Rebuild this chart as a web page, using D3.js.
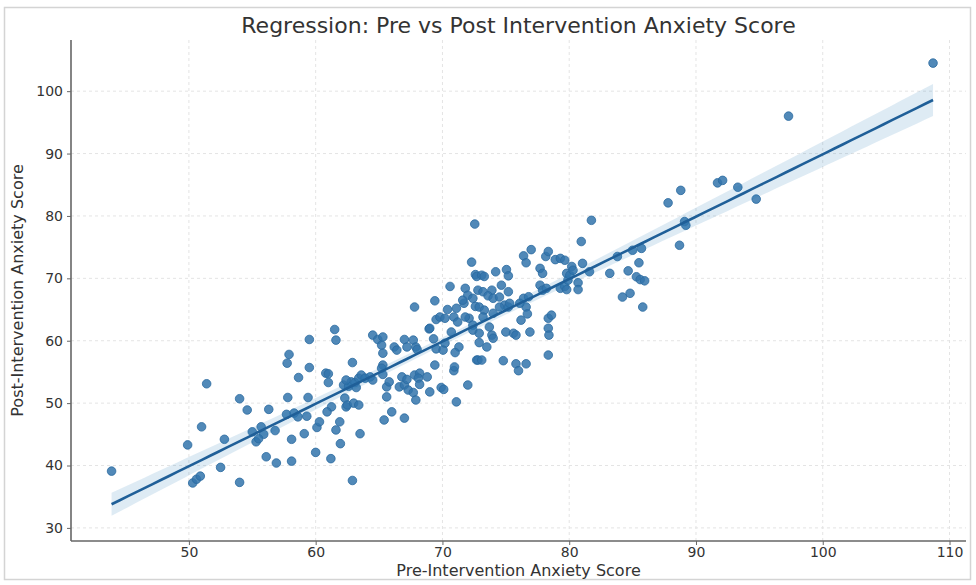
<!DOCTYPE html>
<html>
<head>
<meta charset="utf-8">
<script src="https://cdn.jsdelivr.net/npm/d3@7"></script>
<style>
  body { margin: 0; background: #fff; }
  svg { display: block; font-family: 'DejaVu Sans', sans-serif; }
</style>
</head>
<body>
<svg id="chart" width="976" height="585"></svg>
<script>
// values: pre-intervention score (x), post-intervention score (y)
const preScores = [
  43.9, 49.9, 50.3, 50.6, 50.9, 51.0, 51.4, 52.5, 52.8, 54.0, 54.0, 54.6, 55.0, 55.3, 55.7, 55.9, 55.5,
  56.1, 56.3, 56.8, 56.9, 57.7, 57.75, 57.9, 57.8, 58.1, 58.1, 58.3, 58.6, 58.65, 59.1, 59.3, 59.4, 59.5,
  59.5, 60.0, 60.1, 60.3, 60.8, 61.0, 61.0, 61.2, 61.25, 60.9, 61.5, 61.6, 61.6, 61.9, 61.95, 62.9,
  62.2, 62.3, 62.4, 62.5, 62.6, 62.8, 62.9, 63.0, 63.1, 63.2, 63.4, 63.4, 63.6, 63.9, 64.3, 64.5, 64.5,
  64.9, 65.2, 65.3, 65.3, 65.3, 65.2, 65.6, 65.6, 65.8, 66.0, 65.4, 66.2, 66.4, 66.6, 66.8, 67.0, 67.0,
  67.0, 63.5, 65.3, 62.4, 67.2,
  67.2, 67.7, 67.9, 68.0, 67.8, 68.95, 69.4, 69.5, 69.8, 70.2, 70.4, 70.6, 70.9, 71.1, 71.7, 71.8, 72.0,
  72.4, 72.6, 72.3, 72.6, 72.1, 72.4, 72.7, 69.3, 69.5, 70.2, 71.3, 71.0, 70.9, 69.4, 72.0, 71.1, 69.9,
  69.0, 67.8, 68.2, 68.8, 68.1, 67.3, 67.7, 67.9, 68.2, 70.1, 69.0, 70.7, 71.2, 71.8, 72.4, 72.9, 72.9,
  72.55, 72.7, 73.1, 73.3, 71.6, 72.8, 70.05, 70.95,
  73.2, 73.9, 73.6, 74.0, 74.5, 74.65, 75.2, 74.9, 75.2, 75.3, 74.2, 75.05, 75.2, 76.4, 76.6, 77.0,
  77.7, 77.9, 78.15, 78.35, 78.9, 79.3, 79.65, 79.8, 76.4, 76.8, 77.7, 77.9, 78.2, 79.3, 79.65, 79.9,
  72.9, 73.3, 76.6, 76.7, 76.2, 78.35, 78.6, 78.35, 78.4, 78.35, 75.6, 75.8, 76.9, 73.9, 74.0, 73.5,
  72.8, 73.1, 74.8, 75.8, 76.6, 73.7, 73.2, 74.0, 74.5, 76.1, 75.0, 76.0,
  81.75, 80.95, 81.05, 80.2, 80.05, 80.3, 81.6, 80.7, 80.7, 79.8, 83.2, 83.8, 84.65, 85.0, 85.7, 85.5,
  85.3, 85.6, 85.95, 84.2, 84.8, 85.8, 87.8, 88.8, 88.7, 89.1, 89.2, 91.7, 92.1, 93.3, 94.75, 97.3, 108.7
]
const postScores = [
  39.1, 43.3, 37.2, 37.8, 38.3, 46.2, 53.1, 39.7, 44.2, 50.7, 37.3, 48.9, 45.4, 43.8, 46.2, 45.0, 44.3,
  41.4, 49.0, 45.6, 40.4, 48.2, 56.4, 57.8, 50.9, 44.2, 40.7, 48.4, 47.8, 54.1, 45.1, 47.9, 50.9, 60.2,
  55.7, 42.1, 46.1, 47.0, 54.8, 54.7, 53.3, 41.1, 49.4, 48.6, 61.8, 60.1, 45.7, 47.0, 43.5, 37.6,
  52.9, 50.8, 49.4, 49.7, 52.7, 53.4, 56.5, 50.0, 53.3, 52.5, 49.7, 54.0, 54.5, 54.0, 54.2, 53.7, 60.9,
  60.2, 59.3, 58.0, 60.6, 56.1, 55.6, 52.6, 51.0, 53.4, 48.6, 47.3, 59.0, 58.5, 52.6, 54.2, 52.9, 47.6,
  60.2, 45.1, 54.6, 53.7, 53.8,
  59.0, 60.1, 59.0, 58.6, 65.4, 61.9, 66.4, 63.4, 63.8, 63.6, 65.0, 68.7, 63.8, 65.2, 66.0, 68.4, 67.3,
  66.8, 65.5, 72.6, 70.6, 63.6, 62.5, 56.9, 60.3, 58.7, 59.6, 59.0, 58.1, 55.2, 56.1, 52.9, 50.2, 52.5,
  51.8, 54.5, 54.8, 54.2, 54.0, 52.1, 51.7, 50.5, 53.0, 52.2, 62.0, 61.4, 63.0, 63.8, 61.7, 61.2, 59.7,
  78.7, 70.3, 70.5, 70.3, 66.5, 68.1, 58.5, 55.8,
  67.85, 68.1, 67.2, 66.8, 67.0, 68.9, 67.85, 65.7, 65.4, 66.0, 71.05, 71.4, 70.4, 73.6, 72.5, 74.6,
  71.6, 70.8, 73.5, 74.3, 73.0, 73.2, 72.9, 70.8, 66.8, 67.05, 68.9, 68.1, 68.4, 68.4, 68.7, 69.7,
  65.4, 64.9, 65.4, 64.3, 63.3, 63.6, 64.1, 62.0, 60.9, 57.7, 61.2, 60.9, 61.4, 60.9, 60.4, 59.0,
  56.9, 56.9, 56.8, 56.3, 56.3, 62.2, 63.8, 64.4, 65.4, 66.0, 61.4, 55.2,
  79.3, 75.9, 72.4, 71.9, 70.5, 71.3, 71.05, 69.3, 68.2, 68.2, 70.8, 73.5, 71.2, 74.5, 74.8, 72.5,
  70.25, 69.8, 69.6, 67.0, 67.6, 65.4, 82.1, 84.1, 75.3, 79.1, 78.5, 85.3, 85.7, 84.6, 82.7, 96.0, 104.5
]
const xTicks = [50, 60, 70, 80, 90, 100, 110]
const yTicks = [30, 40, 50, 60, 70, 80, 90, 100]

const TITLE = 'Regression: Pre vs Post Intervention Anxiety Score'
const X_LABEL = 'Pre-Intervention Anxiety Score'
const Y_LABEL = 'Post-Intervention Anxiety Score'

const POINT_FILL = '#3274ac'
const LINE_COLOR = '#1f5f98'
const BAND_FILL = 'rgba(31, 119, 180, 0.15)'
const GRID_COLOR = '#e4e4e4'
const SPINE_COLOR = '#666'
const TEXT_COLOR = '#333'

const plot = { left: 71, right: 966, top: 40, bottom: 541 }

const svg = d3.select('#chart')

// light frame round the whole figure
svg.append('rect')
  .attr('x', 4.5).attr('y', 7.5)
  .attr('width', 966).attr('height', 572)
  .attr('fill', '#fff')
  .attr('stroke', '#d4d4d4')
  .attr('stroke-width', 1.5)

const x = d3.scaleLinear().domain([40.7, 111.3]).range([plot.left, plot.right])
const y = d3.scaleLinear().domain([27.9, 108.2]).range([plot.bottom, plot.top])

const data = preScores.map((p, i) => ({ pre: p, post: postScores[i] }))

// ordinary least squares fit + 95% confidence band
const n = data.length
const mx = d3.mean(data, d => d.pre)
const my = d3.mean(data, d => d.post)
const sxx = d3.sum(data, d => (d.pre - mx) ** 2)
const sxy = d3.sum(data, d => (d.pre - mx) * (d.post - my))
const slope = sxy / sxx
const intercept = my - slope * mx
const sse = d3.sum(data, d => (d.post - (intercept + slope * d.pre)) ** 2)
const se = Math.sqrt(sse / (n - 2))
const tCrit = 1.972

const [xMin, xMax] = d3.extent(data, d => d.pre)
const fitPts = d3.range(0, 101).map(i => {
  const xv = xMin + (xMax - xMin) * i / 100
  const yv = intercept + slope * xv
  const half = tCrit * se * Math.sqrt(1 / n + (xv - mx) ** 2 / sxx)
  return { x: xv, y: yv, lo: yv - half, hi: yv + half }
})

// grid
const grid = svg.append('g').attr('class', 'grid')
grid.selectAll('line.gx')
  .data(xTicks)
  .join('line')
  .attr('class', 'gx')
  .attr('x1', d => x(d)).attr('x2', d => x(d))
  .attr('y1', plot.top).attr('y2', plot.bottom)
grid.selectAll('line.gy')
  .data(yTicks)
  .join('line')
  .attr('class', 'gy')
  .attr('x1', plot.left).attr('x2', plot.right)
  .attr('y1', d => y(d)).attr('y2', d => y(d))
grid.selectAll('line')
  .attr('stroke', GRID_COLOR)
  .attr('stroke-width', 1)
  .attr('stroke-dasharray', '3,3')

// scatter
svg.append('g')
  .selectAll('circle')
  .data(data)
  .join('circle')
  .attr('cx', d => x(d.pre))
  .attr('cy', d => y(d.post))
  .attr('r', 4.3)
  .attr('fill', POINT_FILL)
  .attr('fill-opacity', 0.85)
  .attr('stroke', '#2a6aa0')
  .attr('stroke-width', 0.8)

// confidence band + fit line
svg.append('path')
  .datum(fitPts)
  .attr('fill', BAND_FILL)
  .attr('d', d3.area().x(d => x(d.x)).y0(d => y(d.lo)).y1(d => y(d.hi)))

svg.append('path')
  .datum(fitPts)
  .attr('fill', 'none')
  .attr('stroke', LINE_COLOR)
  .attr('stroke-width', 2.6)
  .attr('d', d3.line().x(d => x(d.x)).y(d => y(d.y)))

// axes
const xAxis = svg.append('g')
  .attr('transform', `translate(0,${plot.bottom})`)
  .call(d3.axisBottom(x).tickValues(xTicks).tickSize(4).tickPadding(2).tickSizeOuter(0))
const yAxis = svg.append('g')
  .attr('transform', `translate(${plot.left},0)`)
  .call(d3.axisLeft(y).tickValues(yTicks).tickSize(4).tickPadding(4).tickSizeOuter(0))

for (const ax of [xAxis, yAxis]) {
  ax.select('.domain').attr('stroke', SPINE_COLOR).attr('stroke-width', 1.6)
  ax.selectAll('.tick line').attr('stroke', SPINE_COLOR).attr('stroke-width', 1)
  ax.selectAll('.tick text')
    .attr('fill', TEXT_COLOR)
    .attr('font-size', 14)
    .attr('font-family', "'DejaVu Sans', sans-serif")
}
xAxis.select('.domain').attr('d', `M${plot.left},0H${plot.right}`)
yAxis.select('.domain').attr('d', `M0,${plot.bottom}V${plot.top}`)

// labels
svg.append('text')
  .attr('x', (plot.left + plot.right) / 2)
  .attr('y', 33)
  .attr('text-anchor', 'middle')
  .attr('font-size', 22)
  .attr('fill', TEXT_COLOR)
  .text(TITLE)

svg.append('text')
  .attr('x', (plot.left + plot.right) / 2)
  .attr('y', 576)
  .attr('text-anchor', 'middle')
  .attr('font-size', 16)
  .attr('fill', TEXT_COLOR)
  .text(X_LABEL)

svg.append('text')
  .attr('transform', `translate(23,${(plot.top + plot.bottom) / 2}) rotate(-90)`)
  .attr('text-anchor', 'middle')
  .attr('font-size', 16)
  .attr('fill', TEXT_COLOR)
  .text(Y_LABEL)
</script>
</body>
</html>
